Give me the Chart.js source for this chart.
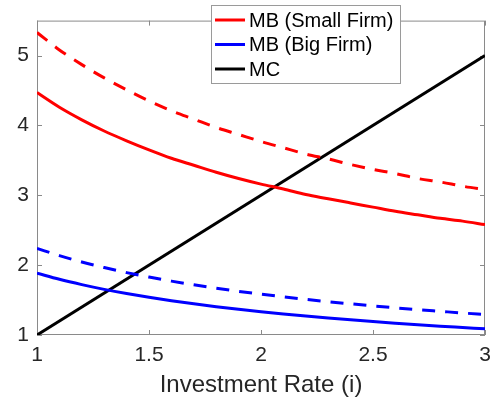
<!DOCTYPE html>
<html>
<head>
<meta charset="utf-8">
<script src="https://cdn.jsdelivr.net/npm/chart.js@4"></script>
<style>
  html, body { margin: 0; padding: 0; background: #fff; }
  #wrap { width: 499px; height: 407px; }
</style>
</head>
<body>
<div id="wrap"><canvas id="c" width="499" height="407"></canvas></div>
<script>
// Investment rate grid
const rates = [1.0, 1.1, 1.2, 1.3, 1.4, 1.5, 1.6, 1.7, 1.8, 1.9, 2.0,
               2.1, 2.2, 2.3, 2.4, 2.5, 2.6, 2.7, 2.8, 2.9, 3.0];

// Marginal benefit, small firm (solid and dashed cases)
const mbSmall = [4.47, 4.26, 4.08, 3.92, 3.78, 3.65, 3.53, 3.43, 3.33, 3.24, 3.16,
                 3.09, 3.01, 2.95, 2.89, 2.83, 2.77, 2.72, 2.67, 2.63, 2.58];
const mbSmallAlt = [5.33, 5.08, 4.87, 4.68, 4.51, 4.35, 4.21, 4.09, 3.97, 3.87, 3.77,
                    3.68, 3.59, 3.52, 3.44, 3.37, 3.31, 3.24, 3.19, 3.13, 3.08];

// Marginal benefit, big firm (solid and dashed cases)
const mbBig = [1.885, 1.797, 1.721, 1.653, 1.593, 1.539, 1.490, 1.446, 1.405, 1.368, 1.333,
               1.301, 1.271, 1.243, 1.217, 1.192, 1.169, 1.147, 1.126, 1.107, 1.088];
const mbBigAlt = [2.24, 2.136, 2.045, 1.965, 1.893, 1.829, 1.771, 1.718, 1.670, 1.625, 1.584,
                  1.546, 1.510, 1.477, 1.446, 1.417, 1.389, 1.363, 1.339, 1.315, 1.293];

// Marginal cost (straight line)
const mcRates = [1, 3];
const mc = [1, 5];

const xTicks = [1, 1.5, 2, 2.5, 3];
const yTicks = [1, 2, 3, 4, 5];

const pts = (xs, ys) => xs.map((x, i) => ({ x: x, y: ys[i] }));

const FONT = "'Liberation Sans', Arial, Helvetica, sans-serif";
const AXIS_GRAY = '#8a8a8a';
const TEXT = '#262626';
const DASH = [13, 10];

const datasets = [
  { label: 'MB (Small Firm)', data: pts(rates, mbSmall), borderColor: '#ff0000', legend: true },
  { label: 'MB (Small Firm) alt', data: pts(rates, mbSmallAlt), borderColor: '#ff0000', borderDash: DASH },
  { label: 'MB (Big Firm)', data: pts(rates, mbBig), borderColor: '#0000ff', legend: true },
  { label: 'MB (Big Firm) alt', data: pts(rates, mbBigAlt), borderColor: '#0000ff', borderDash: DASH },
  { label: 'MC', data: pts(mcRates, mc), borderColor: '#000000', legend: true }
].map(d => Object.assign({
  borderWidth: 3, pointRadius: 0, fill: false, tension: 0.3, cubicInterpolationMode: 'monotone'
}, d));

// Box around the plot with inward tick marks on all four sides
const boxTicks = {
  id: 'boxTicks',
  beforeDatasetsDraw(chart) {
    const { ctx, chartArea: a, scales } = chart;
    const L = 5;
    ctx.save();
    ctx.strokeStyle = AXIS_GRAY;
    ctx.lineWidth = 1;
    ctx.strokeRect(a.left + 0.5, a.top + 0.5, a.right - a.left - 1, a.bottom - a.top - 1);
    ctx.beginPath();
    xTicks.forEach(v => {
      const px = Math.round(scales.x.getPixelForValue(v)) + 0.5;
      ctx.moveTo(px, a.bottom); ctx.lineTo(px, a.bottom - L);
      ctx.moveTo(px, a.top); ctx.lineTo(px, a.top + L);
    });
    yTicks.forEach(v => {
      const py = Math.round(scales.y.getPixelForValue(v)) + 0.5;
      ctx.moveTo(a.left, py); ctx.lineTo(a.left + L, py);
      ctx.moveTo(a.right, py); ctx.lineTo(a.right - L, py);
    });
    ctx.stroke();
    ctx.restore();
  }
};

// Legend box in the upper middle of the plot
const boxLegend = {
  id: 'boxLegend',
  afterDraw(chart) {
    const { ctx } = chart;
    const items = chart.data.datasets.filter(d => d.legend);
    const x0 = 211, y0 = 5, w = 189, h = 78;
    ctx.save();
    ctx.fillStyle = '#fff';
    ctx.fillRect(x0, y0, w, h);
    ctx.strokeStyle = '#9a9a9a';
    ctx.lineWidth = 1;
    ctx.strokeRect(x0 + 0.5, y0 + 0.5, w, h);
    ctx.font = '20px ' + FONT;
    ctx.textBaseline = 'middle';
    ctx.textAlign = 'left';
    items.forEach((d, i) => {
      const y = 20 + i * 24.5;
      ctx.strokeStyle = d.borderColor;
      ctx.lineWidth = 3;
      ctx.setLineDash([]);
      ctx.beginPath();
      ctx.moveTo(215, y); ctx.lineTo(245, y);
      ctx.stroke();
      ctx.fillStyle = '#000';
      ctx.fillText(d.label, 249, y + 1);
    });
    ctx.restore();
  }
};

new Chart(document.getElementById('c'), {
  type: 'line',
  data: { datasets: datasets },
  options: {
    responsive: false,
    animation: false,
    layout: { padding: { top: 1, right: 14, left: 0, bottom: 0 } },
    plugins: { legend: { display: false }, tooltip: { enabled: false } },
    scales: {
      x: {
        type: 'linear', min: 1, max: 3,
        afterBuildTicks: s => { s.ticks = xTicks.map(v => ({ value: v })); },
        afterFit: s => { s.height = 72; },
        grid: { display: false, drawTicks: false },
        border: { display: false },
        ticks: {
          padding: 8, color: TEXT,
          font: { family: FONT, size: 21 },
          maxRotation: 0,
          callback: v => String(v)
        },
        title: {
          display: true, text: 'Investment Rate (i)', color: TEXT,
          font: { family: FONT, size: 24 },
          padding: { top: 0, bottom: 7 }
        }
      },
      y: {
        type: 'linear', min: 1, max: 5.5,
        afterBuildTicks: s => { s.ticks = yTicks.map(v => ({ value: v })); },
        afterFit: s => { s.width = 37; },
        grid: { display: false, drawTicks: false },
        border: { display: false },
        ticks: {
          padding: 8, color: TEXT,
          font: { family: FONT, size: 21 },
          callback: v => String(v)
        }
      }
    }
  },
  plugins: [boxTicks, boxLegend]
});
</script>
</body>
</html>
